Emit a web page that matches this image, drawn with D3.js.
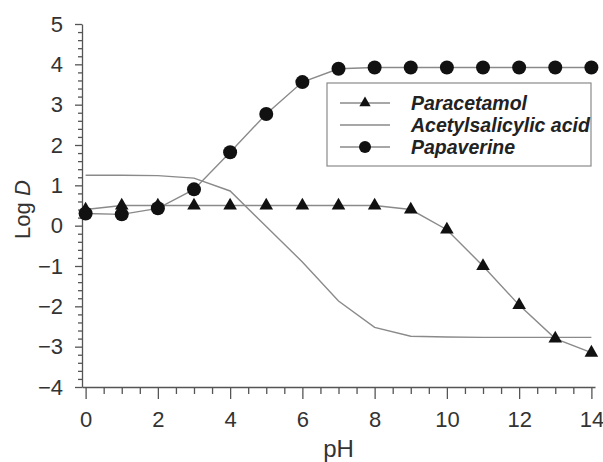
<!DOCTYPE html>
<html>
<head>
<meta charset="utf-8">
<script src="https://cdn.jsdelivr.net/npm/d3@7"></script>
<style>
  html, body { margin: 0; padding: 0; background: #fff; }
  svg { display: block; font-family: "Liberation Sans", Arial, sans-serif; }
</style>
</head>
<body>
<svg id="chart" width="603" height="462"></svg>
<script>
// ---- data ----
const pH = [0, 1, 2, 3, 4, 5, 6, 7, 8, 9, 10, 11, 12, 13, 14];
const paracetamol = [0.4, 0.5, 0.5, 0.5, 0.5, 0.5, 0.5, 0.5, 0.5, 0.4, -0.1, -1.0, -1.97, -2.8, -3.15];
const acetylsalicylic = [1.25, 1.25, 1.24, 1.18, 0.86, -0.02, -0.9, -1.87, -2.52, -2.74, -2.76, -2.77, -2.77, -2.77, -2.77];
const papaverine = [0.3, 0.28, 0.43, 0.9, 1.82, 2.77, 3.56, 3.89, 3.92, 3.92, 3.92, 3.92, 3.92, 3.92, 3.92];
const seriesNames = ["Paracetamol", "Acetylsalicylic acid", "Papaverine"];
const xTicks = [0, 2, 4, 6, 8, 10, 12, 14];
const yTicks = [-4, -3, -2, -1, 0, 1, 2, 3, 4, 5];

// ---- layout ----
const svg = d3.select("#chart");
const x = d3.scaleLinear().domain([-0.1, 14.1]).range([82, 595]);
const y = d3.scaleLinear().domain([-4, 5]).range([387, 24]);
const axisColor = "#555";
const lineColor = "#8a8a8a";
const markColor = "#111";
const labelColor = "#333";
const FONT = "'Liberation Sans', Arial, sans-serif";

const xMinor = d3.range(0, 14.01, 0.5).filter(v => Math.abs(v % 2) > 1e-6);
const yMinor = d3.range(-4, 5.001, 0.2).map(v => +v.toFixed(2)).filter(v => Math.abs(v - Math.round(v)) > 1e-6);

svg.append("g").attr("transform", `translate(0,${y(-4)})`)
  .call(d3.axisBottom(x).tickValues(xMinor).tickSize(7).tickFormat(""))
  .call(g => g.select(".domain").remove());
svg.append("g").attr("transform", `translate(0,${y(-4)})`)
  .call(d3.axisBottom(x).tickValues(xTicks).tickSize(12).tickPadding(12).tickSizeOuter(0));

svg.append("g").attr("transform", `translate(${x(-0.1)},0)`)
  .call(d3.axisLeft(y).tickValues(yMinor).tickSize(4).tickFormat(""))
  .call(g => g.select(".domain").remove());
svg.append("g").attr("transform", `translate(${x(-0.1)},0)`)
  .call(d3.axisLeft(y).tickValues(yTicks).tickSize(7).tickPadding(12).tickSizeOuter(0)
    .tickFormat(d => d < 0 ? "\u2212" + Math.abs(d) : d));

svg.selectAll("g").attr("font-size", 22).attr("font-family", FONT);
svg.selectAll(".tick line").attr("stroke", axisColor).attr("stroke-width", 1.3);
svg.selectAll(".domain").attr("stroke", axisColor).attr("stroke-width", 1.3);
svg.selectAll(".tick text").attr("fill", labelColor);

// axis titles
svg.append("text").attr("x", x(7)).attr("y", 457).attr("text-anchor", "middle")
  .attr("fill", labelColor).attr("font-size", 24).attr("font-family", FONT).text("pH");
const yl = svg.append("text").attr("transform", `translate(30,${y(0.4)}) rotate(-90)`)
  .attr("text-anchor", "middle").attr("fill", labelColor).attr("font-size", 22).attr("font-family", FONT);
yl.append("tspan").text("Log ");
yl.append("tspan").attr("font-style", "italic").text("D");

// lines
const line = d3.line().x((d, i) => x(pH[i])).y(d => y(d));
[acetylsalicylic, paracetamol, papaverine].forEach(s => {
  svg.append("path").datum(s).attr("d", line).attr("fill", "none")
    .attr("stroke", lineColor).attr("stroke-width", 1.4);
});

const tri = d3.symbol().type(d3.symbolTriangle).size(80);
svg.append("g").selectAll("path").data(paracetamol).join("path")
  .attr("d", tri).attr("fill", markColor)
  .attr("transform", (d, i) => `translate(${x(pH[i])},${y(d)})`);
svg.append("g").selectAll("circle").data(papaverine).join("circle")
  .attr("cx", (d, i) => x(pH[i])).attr("cy", d => y(d)).attr("r", 7).attr("fill", markColor);

// legend
const lg = svg.append("g");
lg.append("rect").attr("x", 327).attr("y", 83).attr("width", 264).attr("height", 83)
  .attr("fill", "#fff").attr("stroke", lineColor).attr("stroke-width", 1.2);
const rows = [103, 125, 147];
seriesNames.forEach((name, i) => {
  const ry = rows[i];
  lg.append("line").attr("x1", 340).attr("x2", 390).attr("y1", ry).attr("y2", ry)
    .attr("stroke", lineColor).attr("stroke-width", 1.4);
  if (i === 0) lg.append("path").attr("d", d3.symbol().type(d3.symbolTriangle).size(55)())
    .attr("transform", `translate(365,${ry})`).attr("fill", markColor);
  if (i === 2) lg.append("circle").attr("cx", 365).attr("cy", ry).attr("r", 6).attr("fill", markColor);
  lg.append("text").attr("x", 411).attr("y", ry + 7).attr("fill", "#222")
    .attr("font-size", 19.5).attr("font-weight", "bold").attr("font-style", "italic")
    .attr("font-family", FONT).text(name);
});
</script>
</body>
</html>
